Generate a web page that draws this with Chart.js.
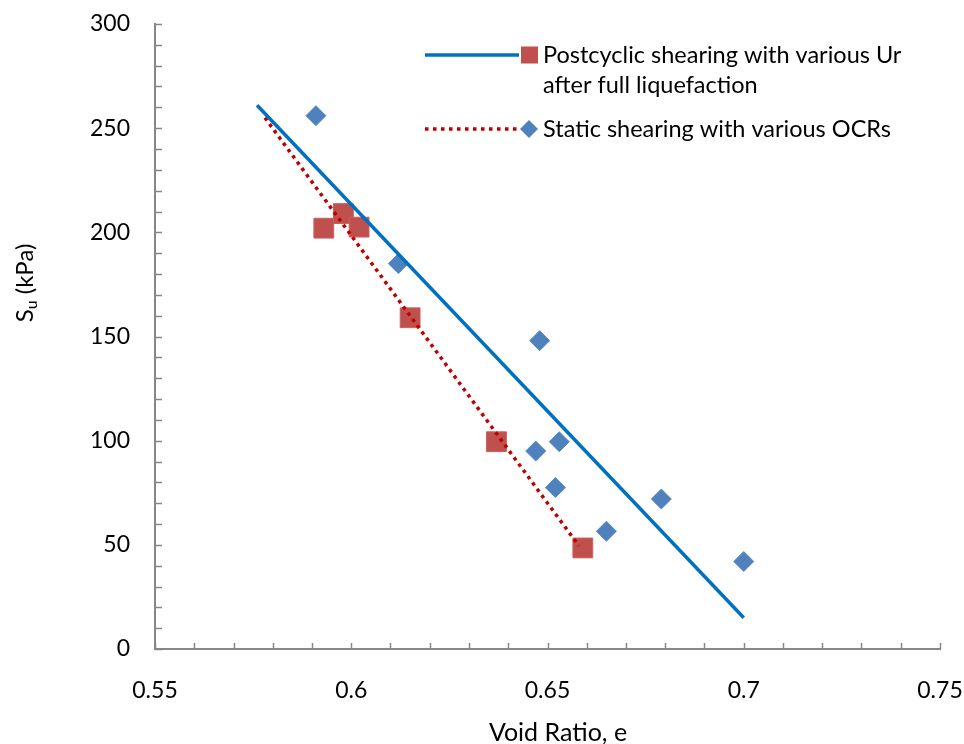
<!DOCTYPE html>
<html lang="en">
<head>
<meta charset="UTF-8">
<title>Undrained Strength vs Void Ratio</title>
<script src="https://cdn.jsdelivr.net/npm/chart.js"></script>
<style>
  body {
    margin: 0;
    background: #fff;
  }
  #wrap {
    width: 964px;
    height: 744px;
  }
</style>
</head>
<body>
  <div id="wrap">
    <canvas id="suChart" width="964" height="744"></canvas>
  </div>

  <script>
    // Static shearing with various OCRs
    const staticVoid = [0.591, 0.612, 0.648, 0.647, 0.653, 0.652, 0.665, 0.679, 0.700];
    const staticSu = [256, 185, 148, 95, 99.5, 77.5, 56.5, 72, 42];

    // Postcyclic shearing after full liquefaction
    const postVoid = [0.593, 0.598, 0.602, 0.615, 0.637, 0.659];
    const postSu = [202, 209, 202.5, 159, 99.5, 48.5];

    // Linear trend lines (end points)
    const staticFitVoid = [0.576, 0.700];
    const staticFitSu = [261, 15];
    const postFitVoid = [0.578, 0.658];
    const postFitSu = [255, 49.5];

    const xMin = 0.55, xMax = 0.75, xStep = 0.01, xMajor = 0.05;
    const yMin = 0, yMax = 300, yStep = 10, yMajor = 50;

    const FONT = 'Lato, "Open Sans", sans-serif';
    const AXIS_COLOR = '#868686';

    function toPoints(xs, ys) {
      return xs.map((x, i) => ({ x: x, y: ys[i] }));
    }

    // tick marks pointing into the plot area
    const innerTicks = {
      id: 'innerTicks',
      afterDatasetsDraw(chart) {
        const ctx = chart.ctx;
        const xs = chart.scales.x, ys = chart.scales.y;
        const area = chart.chartArea;
        ctx.save();
        ctx.strokeStyle = AXIS_COLOR;
        ctx.lineWidth = 1.5;
        ctx.beginPath();
        xs.ticks.forEach(t => {
          const px = Math.round(xs.getPixelForValue(t.value)) + 0.5;
          ctx.moveTo(px, area.bottom);
          ctx.lineTo(px, area.bottom - 6);
        });
        ys.ticks.forEach(t => {
          const py = Math.round(ys.getPixelForValue(t.value)) + 0.5;
          ctx.moveTo(area.left, py);
          ctx.lineTo(area.left + 7, py);
        });
        ctx.stroke();
        ctx.restore();
      }
    };

    // axis titles (y one has a subscript)
    const axisTitles = {
      id: 'axisTitles',
      afterDraw(chart) {
        const ctx = chart.ctx;
        ctx.save();
        ctx.fillStyle = '#000';
        ctx.textBaseline = 'middle';

        ctx.font = '25px ' + FONT;
        ctx.textAlign = 'center';
        ctx.fillText('Void Ratio, e', 558, 733);

        ctx.textAlign = 'left';
        ctx.translate(25, 283);
        ctx.rotate(-Math.PI / 2);
        const big = '24px ' + FONT, small = '16px ' + FONT;
        ctx.font = big;
        const wS = ctx.measureText('S').width;
        const wRest = ctx.measureText(' (kPa)').width;
        ctx.font = small;
        const wU = ctx.measureText('u').width;
        let x = -(wS + wU + wRest) / 2;
        ctx.font = big;
        ctx.fillText('S', x, 0);
        x += wS;
        ctx.font = small;
        ctx.fillText('u', x, 7);
        x += wU;
        ctx.font = big;
        ctx.fillText(' (kPa)', x, 0);
        ctx.restore();
      }
    };

    const legendEntries = [
      { lines: ['Postcyclic shearing with various Ur', 'after full liquefaction'], y: 55,
        lineColor: '#0070C0', dash: [], marker: 'rect', markerColor: '#C0504D' },
      { lines: ['Static shearing with various OCRs'], y: 129,
        lineColor: '#C00000', dash: [3.5, 4.5], marker: 'diamond', markerColor: '#4F81BD' }
    ];

    const sideLegend = {
      id: 'sideLegend',
      afterDraw(chart) {
        const ctx = chart.ctx;
        ctx.save();
        legendEntries.forEach(e => {
          ctx.beginPath();
          ctx.strokeStyle = e.lineColor;
          ctx.lineWidth = 3.5;
          ctx.setLineDash(e.dash);
          ctx.moveTo(425, e.y);
          ctx.lineTo(519, e.y);
          ctx.stroke();
          ctx.setLineDash([]);
          ctx.fillStyle = e.markerColor;
          if (e.marker === 'rect') {
            ctx.fillRect(521, e.y - 8.5, 17, 17);
          } else {
            ctx.beginPath();
            ctx.moveTo(529, e.y - 9);
            ctx.lineTo(538, e.y);
            ctx.lineTo(529, e.y + 9);
            ctx.lineTo(520, e.y);
            ctx.closePath();
            ctx.fill();
          }
          ctx.fillStyle = '#000';
          ctx.font = '23.5px ' + FONT;
          ctx.textBaseline = 'middle';
          e.lines.forEach((txt, i) => ctx.fillText(txt, 543, e.y + i * 30));
        });
        ctx.restore();
      }
    };

    const ctx = document.getElementById('suChart').getContext('2d');

    const chart = new Chart(ctx, {
      type: 'scatter',
      data: {
        datasets: [
          {
            label: 'Static trend',
            type: 'line',
            data: toPoints(staticFitVoid, staticFitSu),
            borderColor: '#0070C0',
            borderWidth: 3.5,
            pointRadius: 0,
            fill: false,
            order: 0
          },
          {
            label: 'Postcyclic trend',
            type: 'line',
            data: toPoints(postFitVoid, postFitSu),
            borderColor: '#C00000',
            borderWidth: 3.5,
            borderDash: [3.5, 4.3],
            pointRadius: 0,
            fill: false,
            order: 0
          },
          {
            label: 'Postcyclic shearing with various Ur after full liquefaction',
            data: toPoints(postVoid, postSu),
            pointStyle: 'rect',
            pointRadius: 14,
            backgroundColor: '#C0504D',
            borderColor: '#C9605D',
            borderWidth: 1,
            order: 1
          },
          {
            label: 'Static shearing with various OCRs',
            data: toPoints(staticVoid, staticSu),
            pointStyle: 'rectRot',
            pointRadius: 10,
            backgroundColor: '#4F81BD',
            borderColor: '#5A8AC4',
            borderWidth: 1,
            order: 1
          }
        ]
      },
      options: {
        responsive: false,
        animation: false,
        devicePixelRatio: 1,
        layout: { padding: { top: 24, right: 24, left: 0, bottom: 0 } },
        plugins: {
          legend: { display: false },
          tooltip: { enabled: false }
        },
        scales: {
          x: {
            type: 'linear',
            min: xMin,
            max: xMax,
            afterFit: s => {
              s.height = 95;
              s.paddingLeft = 0;
              s.paddingRight = 0;
            },
            grid: { display: false, drawTicks: false },
            border: { display: true, color: AXIS_COLOR, width: 2 },
            ticks: {
              stepSize: xStep,
              autoSkip: false,
              maxRotation: 0,
              padding: 28,
              color: '#000',
              font: { family: FONT, size: 23 },
              callback: v => {
                const k = v / xMajor;
                return Math.abs(k - Math.round(k)) < 1e-6 ? String(+v.toFixed(2)) : '';
              }
            }
          },
          y: {
            type: 'linear',
            min: yMin,
            max: yMax,
            afterFit: s => {
              s.width = 155;
              s.paddingTop = 0;
              s.paddingBottom = 0;
            },
            grid: { display: false, drawTicks: false },
            border: { display: true, color: AXIS_COLOR, width: 2 },
            ticks: {
              stepSize: yStep,
              autoSkip: false,
              padding: 25,
              color: '#000',
              font: { family: FONT, size: 23 },
              callback: v => (v % yMajor === 0 ? String(v) : '')
            }
          }
        }
      },
      plugins: [innerTicks, axisTitles, sideLegend]
    });
  </script>
</body>
</html>
